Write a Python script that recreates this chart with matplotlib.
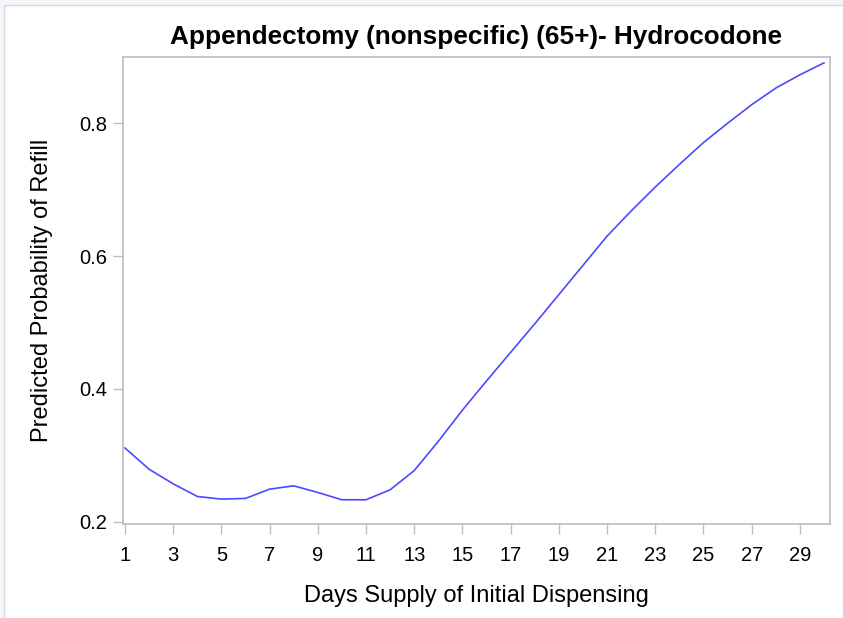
import matplotlib
matplotlib.use("Agg")
import matplotlib.pyplot as plt
from matplotlib.patches import Rectangle

days = list(range(1, 31))
prob = [0.311, 0.279, 0.257, 0.238, 0.234, 0.235, 0.249, 0.254, 0.244, 0.233,
        0.233, 0.248, 0.277, 0.321, 0.368, 0.412, 0.455, 0.498, 0.542, 0.586,
        0.630, 0.668, 0.704, 0.738, 0.771, 0.800, 0.828, 0.853, 0.873, 0.891]
xticks = list(range(1, 30, 2))
yticks = [0.2, 0.4, 0.6, 0.8]

W, H = 843, 618
fig = plt.figure(figsize=(W / 100, H / 100), dpi=100)
fig.patch.set_facecolor("#f4f6fb")
bg = Rectangle((4 / W, -0.01), 1.0, 1.01 - 5 / H, transform=fig.transFigure,
               facecolor="white", edgecolor="#d3d7de", linewidth=1.0, zorder=-10)
fig.add_artist(bg)

ax = fig.add_axes([122.7 / W, (H - 524) / H, (830 - 122.7) / W, (524 - 56.7) / H])
ax.set_zorder(5)
ax.plot(days, prob, color="#4a4aff", linewidth=1.2)
ax.set_xlim(0.905, 30.25)
ax.set_ylim(0.1965, 0.9003)
ax.set_xticks(xticks)
ax.set_xticklabels([str(t) for t in xticks])
ax.set_yticks(yticks)
ax.set_yticklabels([f"{t:.1f}" for t in yticks])

fam = ["Liberation Sans", "DejaVu Sans"]
for sp in ax.spines.values():
    sp.set_color("#b9bec2")
    sp.set_linewidth(1.2)
ax.tick_params(axis="both", colors="#b9bec2", length=7, width=1.0, labelsize=14.5,
               labelcolor="black")
ax.tick_params(axis="x", pad=9)
ax.tick_params(axis="y", pad=4)
for lab in ax.get_xticklabels() + ax.get_yticklabels():
    lab.set_family(fam)

ax.set_xlabel("Days Supply of Initial Dispensing", family=fam, fontsize=17, labelpad=14)
ax.set_ylabel("Predicted Probability of Refill", family=fam, fontsize=17, labelpad=19)
ax.set_title("Appendectomy (nonspecific) (65+)- Hydrocodone", family=fam, fontsize=18.8,
             fontweight="bold", pad=9.5)

fig.savefig("out.png", dpi=100, facecolor=fig.get_facecolor())
